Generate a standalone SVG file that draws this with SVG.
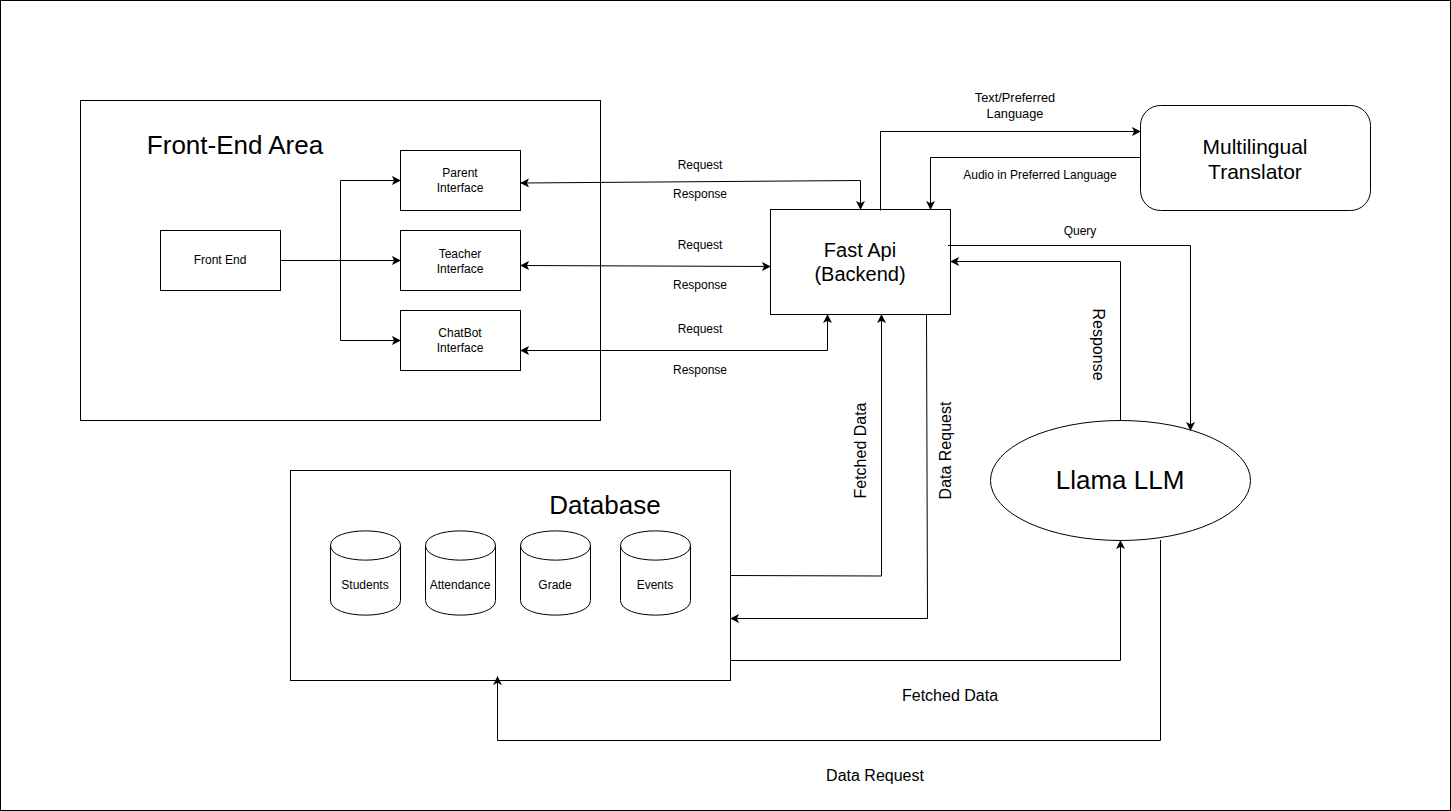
<svg xmlns="http://www.w3.org/2000/svg" width="1451" height="811" viewBox="0 0 1451 811">
<defs>
<marker id="a" viewBox="0 0 10 10" refX="9" refY="5" markerWidth="9" markerHeight="9" markerUnits="userSpaceOnUse" orient="auto-start-reverse"><path d="M0 0L10 5L0 10L2.500 5Z" fill="#000"/></marker>
</defs>
<style>
text{font-family:"Liberation Sans",Arial,sans-serif;fill:#000;text-anchor:middle}
.s{fill:#fff;stroke:#000;stroke-width:1}
.c{fill:none;stroke:#000;stroke-width:1;marker-end:url(#a)}
.b{marker-start:url(#a)}
.t12{font-size:12px}.t13{font-size:12.800px}.t16{font-size:16px}.t20{font-size:20px}.t21{font-size:21px}.t26{font-size:26px}
</style>
<rect x="0.500" y="0.500" width="1450" height="810" fill="#fff" stroke="#000"/>
<g id="front-end-area"><rect class="s" x="80.500" y="100.500" width="520" height="320"/><text class="t26" x="235" y="154">Front-End Area</text></g>
<g id="database"><rect class="s" x="290.500" y="470.500" width="440" height="210"/><text class="t26" x="605" y="514">Database</text></g>
<g id="front-end"><rect class="s" x="160.500" y="230.500" width="120" height="60"/><text class="t12" x="220" y="264">Front End</text></g>
<g id="parent"><rect class="s" x="400.500" y="150.500" width="120" height="60"/><text class="t12" x="460" y="177">Parent</text><text class="t12" x="460" y="192">Interface</text></g>
<g id="teacher"><rect class="s" x="400.500" y="230.500" width="120" height="60"/><text class="t12" x="460" y="258">Teacher</text><text class="t12" x="460" y="273">Interface</text></g>
<g id="chatbot"><rect class="s" x="400.500" y="310.500" width="120" height="60"/><text class="t12" x="460" y="337">ChatBot</text><text class="t12" x="460" y="352">Interface</text></g>
<g id="fastapi"><rect class="s" x="770.500" y="209.500" width="180" height="105"/><text class="t20" x="860" y="257">Fast Api</text><text class="t20" x="860" y="281">(Backend)</text></g>
<g id="translator"><rect class="s" x="1140.500" y="105.500" width="230" height="105" rx="20"/><text class="t21" x="1255" y="154">Multilingual</text><text class="t21" x="1255" y="179">Translator</text></g>
<g id="llama"><ellipse class="s" cx="1120.500" cy="480.500" rx="130" ry="60"/><text class="t26" x="1120" y="489">Llama LLM</text></g>
<g id="students"><path class="s" d="M330.500 545.500C330.500 526 400.500 526 400.500 545.500V600.500C400.500 620 330.500 620 330.500 600.500ZM330.500 545.500C330.500 565 400.500 565 400.500 545.500"/><text class="t12" x="365" y="589">Students</text></g>
<g id="attendance"><path class="s" d="M425.500 545.500C425.500 526 495.500 526 495.500 545.500V600.500C495.500 620 425.500 620 425.500 600.500ZM425.500 545.500C425.500 565 495.500 565 495.500 545.500"/><text class="t12" x="460" y="589">Attendance</text></g>
<g id="grade"><path class="s" d="M520.500 545.500C520.500 526 590.500 526 590.500 545.500V600.500C590.500 620 520.500 620 520.500 600.500ZM520.500 545.500C520.500 565 590.500 565 590.500 545.500"/><text class="t12" x="555" y="589">Grade</text></g>
<g id="events"><path class="s" d="M620.500 545.500C620.500 526 690.500 526 690.500 545.500V600.500C690.500 620 620.500 620 620.500 600.500ZM620.500 545.500C620.500 565 690.500 565 690.500 545.500"/><text class="t12" x="655" y="589">Events</text></g>
<g id="connectors">
<path class="c" d="M280.500 260.500H400"/>
<path class="c" d="M340.500 260.500V180.500H400"/>
<path class="c" d="M340.500 260.500V340.500H400"/>
<path class="c b" d="M521 183L860.500 180.500V209"/>
<path class="c b" d="M521 265.500L770 266.500"/>
<path class="c b" d="M521 350.500H827.500V315"/>
<path class="c" d="M880.500 210.500V131.500H1140"/>
<path class="c" d="M1140.500 157.500H930.500V209"/>
<path class="c" d="M948 245.500H1190.500V430"/>
<path class="c" d="M1120.500 420.500V261.500H951"/>
<path class="c" d="M730.500 575.500L881.500 576V315"/>
<path class="c" d="M926.500 314.500L927.500 618.500H731"/>
<path class="c" d="M730.500 660.500H1120.500V541"/>
<path class="c" d="M1160.500 540V740.500H497.500V677"/>
</g>
<g id="labels">
<text class="t12" x="700" y="169">Request</text>
<text class="t12" x="700" y="198">Response</text>
<text class="t12" x="700" y="249">Request</text>
<text class="t12" x="700" y="289">Response</text>
<text class="t12" x="700" y="333">Request</text>
<text class="t12" x="700" y="374">Response</text>
<text class="t13" x="1015" y="102">Text/Preferred</text>
<text class="t13" x="1015" y="118">Language</text>
<text class="t12" x="1040" y="179">Audio in Preferred Language</text>
<text class="t12" x="1080" y="235">Query</text>
<text class="t16" transform="translate(1093 344.500) rotate(90)">Response</text>
<text class="t16" transform="translate(866 450.500) rotate(-90)">Fetched Data</text>
<text class="t16" transform="translate(951 450.500) rotate(-90)">Data Request</text>
<text class="t16" x="950" y="701">Fetched Data</text>
<text class="t16" x="875" y="781">Data Request</text>
</g>
</svg>
